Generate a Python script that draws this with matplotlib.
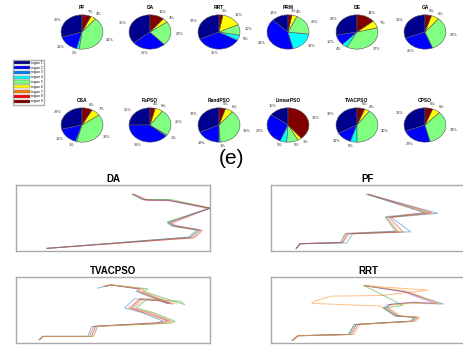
import numpy as np
import matplotlib
matplotlib.use('Agg')
import matplotlib.pyplot as plt
from matplotlib.patches import Patch

plt.rcParams['font.family'] = ['Liberation Sans', 'DejaVu Sans']

# ---- pie data: share of path in each region (region 1..9)
region_names = ['region %d' % i for i in range(1, 10)]
region_colors = ['#00008f', '#0000ff', '#0080ff', '#00ffff', '#80ff80',
                 '#ffff00', '#ff8000', '#ff0000', '#800000']

pie_titles = ['PF', 'DA', 'RRT', 'PRM', 'DE', 'GA',
              'OSA', 'FaPSO', 'RandPSO', 'LinearPSO', 'TVACPSO', 'CPSO']
pf_share = [30, 16, 0, 2, 41, 4, 0, 0, 7]
da_share = [36, 26, 0, 0, 23, 4, 0, 0, 11]
rrt_share = [32, 35, 0, 5, 10, 15, 0, 0, 3]
prm_share = [13, 41, 0, 19, 20, 4, 0, 0, 3]
de_share = [28, 10, 0, 4, 37, 7, 0, 0, 14]
ga_share = [31, 25, 0, 0, 33, 6, 0, 0, 5]
osa_share = [29, 16, 0, 1, 39, 7, 0, 0, 8]
fapso_share = [25, 39, 0, 1, 25, 6, 0, 0, 4]
randpso_share = [32, 18, 0, 1, 38, 6, 0, 0, 5]
linpso_share = [15, 29, 0, 5, 9, 3, 0, 0, 39]
tvacpso_share = [33, 12, 0, 5, 40, 4, 0, 0, 6]
cpso_share = [31, 23, 0, 0, 34, 6, 0, 0, 6]
pie_shares = [pf_share, da_share, rrt_share, prm_share, de_share, ga_share,
              osa_share, fapso_share, randpso_share, linpso_share,
              tvacpso_share, cpso_share]

# ---- path data (x, y in % of map) for four algorithms, one list per run
da_x = [[16, 90, 94, 81, 78, 100, 78, 66, 60],
        [16, 91, 95, 82, 79, 100, 79, 67, 60],
        [16, 89, 93, 80, 78, 100, 80, 65, 60],
        [16, 92, 96, 83, 80, 100, 80, 68, 61],
        [16, 90, 95, 81, 79, 99, 78, 66, 60]]
da_y = [[4, 21, 32, 38, 43, 65, 77, 78, 86],
        [4, 20, 31, 37, 43, 65, 77, 77, 86],
        [4, 21, 32, 38, 44, 65, 78, 78, 86],
        [4, 20, 31, 38, 42, 65, 76, 77, 86],
        [4, 21, 32, 39, 43, 64, 77, 77, 86]]

pf_x = [[13, 15, 39, 42, 72, 62, 86, 50],
        [13, 15, 37, 39, 66, 60, 82, 50],
        [13, 15, 36, 38, 65, 59, 80, 49],
        [13, 15, 37, 40, 68, 61, 83, 50],
        [13, 15, 36, 39, 64, 59, 79, 50]]
pf_y = [[4, 11, 12, 26, 29, 51, 57, 86],
        [4, 11, 13, 26, 29, 51, 57, 86],
        [4, 11, 13, 26, 30, 51, 58, 86],
        [4, 11, 13, 26, 29, 51, 58, 86],
        [4, 11, 13, 27, 30, 52, 58, 86]]

tv_x = [[12, 14, 37, 39, 44, 72, 76, 65, 56, 61, 74, 78, 62, 63, 49, 42],
        [12, 14, 39, 41, 46, 75, 79, 68, 58, 64, 77, 80, 64, 64, 49, 45],
        [12, 14, 40, 42, 47, 80, 82, 71, 62, 68, 85, 87, 66, 68, 49, 47],
        [12, 14, 38, 40, 45, 74, 78, 66, 59, 64, 75, 79, 63, 64, 49, 46],
        [12, 14, 39, 41, 46, 76, 80, 69, 60, 65, 78, 81, 65, 66, 49, 46],
        [12, 14, 40, 42, 48, 78, 81, 70, 61, 67, 80, 83, 65, 66, 50, 47]]
tv_y = [[5, 10, 10, 25, 26, 30, 33, 46, 53, 67, 64, 60, 78, 82, 88, 83],
        [5, 10, 10, 25, 26, 30, 33, 46, 53, 67, 63, 59, 78, 82, 88, 86],
        [5, 10, 10, 25, 26, 30, 33, 46, 53, 67, 63, 58, 78, 82, 88, 87],
        [5, 10, 10, 25, 26, 31, 34, 46, 53, 67, 64, 60, 78, 82, 88, 86],
        [5, 10, 10, 25, 26, 30, 33, 46, 53, 66, 63, 59, 78, 82, 88, 86],
        [5, 10, 10, 25, 26, 30, 33, 46, 53, 67, 63, 59, 78, 82, 88, 86]]

rrt_x = [[11, 14, 40, 43, 54, 72, 74, 64, 58, 60, 72, 89, 69, 48],
         [11, 14, 41, 44, 55, 73, 75, 65, 56, 21, 22, 31, 57, 81, 48],
         [11, 14, 40, 43, 54, 72, 74, 64, 58, 68, 48],
         [11, 14, 42, 45, 56, 74, 76, 66, 60, 61, 73, 86, 70, 48],
         [11, 14, 41, 44, 55, 73, 75, 65, 59, 62, 74, 84, 68, 48],
         [11, 14, 43, 46, 57, 75, 77, 67, 61, 63, 75, 87, 71, 48]]
rrt_y = [[4, 11, 13, 28, 30, 33, 39, 41, 53, 58, 61, 59, 78, 87],
         [4, 11, 13, 28, 30, 33, 39, 41, 56, 60, 63, 71, 72, 80, 87],
         [4, 11, 13, 28, 30, 33, 39, 41, 53, 57, 87],
         [4, 11, 13, 28, 30, 33, 39, 41, 53, 58, 61, 60, 77, 87],
         [4, 11, 13, 28, 30, 33, 39, 41, 53, 59, 62, 60, 78, 87],
         [4, 11, 13, 28, 30, 33, 39, 41, 53, 58, 60, 59, 79, 87]]

line_colors = ['tab:blue', 'tab:orange', 'tab:green', 'tab:red', 'tab:purple', '#f5c04a']

W, H = 464, 350
fig = plt.figure(figsize=(W / 100, H / 100), dpi=100)

# pies: two rows of six
pie_cx = [82, 150, 219, 288, 357, 425]
pie_cy = [32, 125]
pw, ph = 44, 36
for k, (title, share) in enumerate(zip(pie_titles, pie_shares)):
    cx = pie_cx[k % 6]
    cy = pie_cy[k // 6]
    ax = fig.add_axes([(cx - pw / 2) / W, 1 - (cy + ph / 2) / H, pw / W, ph / H])
    vals = [v for v in share if v > 0]
    cols = [c for v, c in zip(share, region_colors) if v > 0]
    labs = ['%d%%' % v for v in vals]
    wedges, texts = ax.pie(vals, colors=cols, labels=labs, startangle=90,
                           counterclock=True, labeldistance=1.22,
                           wedgeprops=dict(edgecolor='#555555', linewidth=0.4),
                           textprops=dict(fontsize=2.8, color='#333333'))
    ax.set_aspect('auto')
    ax.set_xlim(-1.05, 1.05)
    ax.set_ylim(-1.05, 1.05)
    ax.set_title(title, fontsize=3.5, fontweight='bold', pad=3.5)

handles = [Patch(facecolor=c, edgecolor='#666666', linewidth=0.3) for c in region_colors]
fig.legend(handles, region_names, loc='upper left', bbox_to_anchor=(11 / W, 1 - 58 / H),
           fontsize=2.3, handlelength=5, handleheight=1.2, labelspacing=0.25,
           borderpad=0.4, handletextpad=0.4, frameon=True, edgecolor='#999999',
           fancybox=False)

fig.text(232 / W, 1 - 158 / H, '(e)', fontsize=15, ha='center', va='center')

# path plots
panels = [('DA', da_x, da_y, 16, 185), ('PF', pf_x, pf_y, 271, 185),
          ('TVACPSO', tv_x, tv_y, 16, 277), ('RRT', rrt_x, rrt_y, 271, 277)]
aw, ah = 194, 66
for name, xs, ys, left, top in panels:
    ax = fig.add_axes([left / W, 1 - (top + ah) / H, aw / W, ah / H])
    for i, (x, y) in enumerate(zip(xs, ys)):
        ax.plot(x, y, color=line_colors[i % len(line_colors)], lw=0.7, alpha=0.5)
    ax.set_xlim(0, 100)
    ax.set_ylim(0, 100)
    ax.set_xticks([])
    ax.set_yticks([])
    for s in ax.spines.values():
        s.set_color('#aaaaaa')
        s.set_linewidth(1.0)
    ax.set_title(name, fontsize=7, fontweight='bold', pad=2)

fig.savefig('out.png', dpi=100)
